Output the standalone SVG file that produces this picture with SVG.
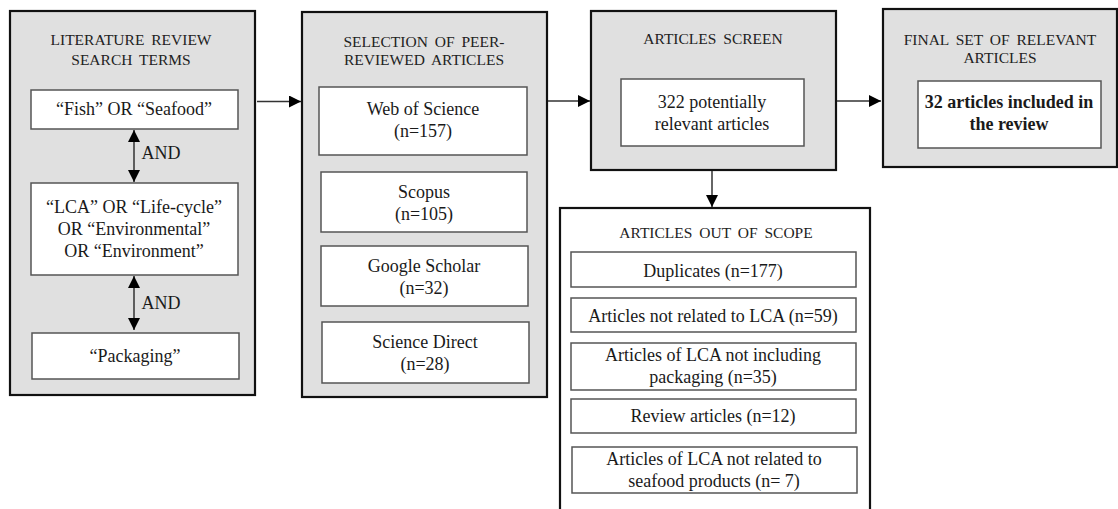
<svg xmlns="http://www.w3.org/2000/svg" width="1118" height="509" viewBox="0 0 1118 509">
  <style>
    .outer { fill: #e0e0e0; stroke: #111; stroke-width: 2.2; }
    .outer-w { fill: #ffffff; stroke: #111; stroke-width: 2.2; }
    .inner { fill: #ffffff; stroke: #555; stroke-width: 1.5; }
    .title { font-family: "Liberation Serif", "Times New Roman", serif; font-size: 15.5px; fill: #222; text-anchor: middle; word-spacing: 3px; }
    .body { font-family: "Liberation Serif", "Times New Roman", serif; font-size: 18px; fill: #1a1a1a; text-anchor: middle; }
    .bold { font-weight: bold; }
    .conn { stroke: #333; stroke-width: 1.5; fill: none; }
  </style>
  <defs>
    <marker id="arrow" markerWidth="12" markerHeight="12" viewBox="0 0 12 12" refX="12" refY="6" orient="auto" markerUnits="userSpaceOnUse">
      <path d="M0,0 L12,6 L0,12 Z" fill="#000"/>
    </marker>
    <marker id="arrow-start" markerWidth="12" markerHeight="12" viewBox="0 0 12 12" refX="0" refY="6" orient="auto" markerUnits="userSpaceOnUse">
      <path d="M12,0 L0,6 L12,12 Z" fill="#000"/>
    </marker>
  </defs>

  <!-- Search terms -->
  <g id="search-terms">
    <rect class="outer" x="10" y="11" width="245" height="384"/>
    <text class="title" x="131" y="45">LITERATURE REVIEW</text>
    <text class="title" x="131" y="65">SEARCH TERMS</text>
    <rect class="inner" x="31" y="90" width="207" height="39"/>
    <text class="body" x="134" y="115">“Fish” OR “Seafood”</text>
    <rect class="inner" x="31" y="183" width="207" height="92"/>
    <text class="body" x="134" y="213">“LCA” OR “Life-cycle”</text>
    <text class="body" x="134" y="235">OR “Environmental”</text>
    <text class="body" x="134" y="257">OR “Environment”</text>
    <rect class="inner" x="32" y="333" width="207" height="46"/>
    <text class="body" x="135" y="362">“Packaging”</text>
    <text class="body" x="161" y="159">AND</text>
    <text class="body" x="161" y="309">AND</text>
  </g>

  <!-- Databases -->
  <g id="peer-reviewed">
    <rect class="outer" x="302" y="12" width="245" height="385"/>
    <text class="title" x="424" y="47">SELECTION OF PEER-</text>
    <text class="title" x="424" y="65">REVIEWED ARTICLES</text>
    <rect class="inner" x="319" y="87" width="208" height="68"/>
    <text class="body" x="423" y="115">Web of Science</text>
    <text class="body" x="423" y="137">(n=157)</text>
    <rect class="inner" x="321" y="172" width="206" height="60"/>
    <text class="body" x="424" y="198">Scopus</text>
    <text class="body" x="424" y="220">(n=105)</text>
    <rect class="inner" x="321" y="246" width="207" height="60"/>
    <text class="body" x="424" y="272">Google Scholar</text>
    <text class="body" x="424" y="294">(n=32)</text>
    <rect class="inner" x="322" y="322" width="207" height="61"/>
    <text class="body" x="425" y="348">Science Direct</text>
    <text class="body" x="425" y="370">(n=28)</text>
  </g>

  <!-- Screening -->
  <g id="articles-screen">
    <rect class="outer" x="591" y="11" width="245" height="159"/>
    <text class="title" x="713" y="44">ARTICLES SCREEN</text>
    <rect class="inner" x="621" y="79" width="183" height="67"/>
    <text class="body" x="712" y="108">322 potentially</text>
    <text class="body" x="712" y="130">relevant articles</text>
  </g>

  <!-- Final set -->
  <g id="final-set">
    <rect class="outer" x="883" y="9" width="234" height="158"/>
    <text class="title" x="1000" y="45">FINAL SET OF RELEVANT</text>
    <text class="title" x="1000" y="63">ARTICLES</text>
    <rect class="inner" x="918" y="81" width="183" height="67"/>
    <text class="body bold" x="1009" y="108">32 articles included in</text>
    <text class="body bold" x="1009" y="130">the review</text>
  </g>

  <!-- Exclusions -->
  <g id="out-of-scope">
    <rect class="outer-w" x="560" y="208" width="310" height="320"/>
    <text class="title" x="716" y="238">ARTICLES OUT OF SCOPE</text>
    <rect class="inner" x="571" y="252" width="285" height="35"/>
    <text class="body" x="713" y="277">Duplicates (n=177)</text>
    <rect class="inner" x="571" y="298" width="285" height="34"/>
    <text class="body" x="713" y="322">Articles not related to LCA (n=59)</text>
    <rect class="inner" x="571" y="343" width="285" height="47"/>
    <text class="body" x="713" y="361">Articles of LCA not including</text>
    <text class="body" x="713" y="383">packaging (n=35)</text>
    <rect class="inner" x="571" y="399" width="285" height="34"/>
    <text class="body" x="713" y="422">Review articles (n=12)</text>
    <rect class="inner" x="572" y="447" width="285" height="46"/>
    <text class="body" x="714" y="465">Articles of LCA not related to</text>
    <text class="body" x="714" y="487">seafood products (n= 7)</text>
  </g>

  <!-- Connectors -->
  <g id="connectors">
    <line class="conn" x1="134" y1="130" x2="134" y2="182" marker-start="url(#arrow-start)" marker-end="url(#arrow)"/>
    <line class="conn" x1="134" y1="276" x2="134" y2="330" marker-start="url(#arrow-start)" marker-end="url(#arrow)"/>
    <line class="conn" x1="257" y1="101.5" x2="301" y2="101.5" marker-end="url(#arrow)"/>
    <line class="conn" x1="548" y1="101" x2="590" y2="101" marker-end="url(#arrow)"/>
    <line class="conn" x1="837" y1="101" x2="881" y2="101" marker-end="url(#arrow)"/>
    <line class="conn" x1="712" y1="171" x2="712" y2="207" marker-end="url(#arrow)"/>
  </g>
</svg>
